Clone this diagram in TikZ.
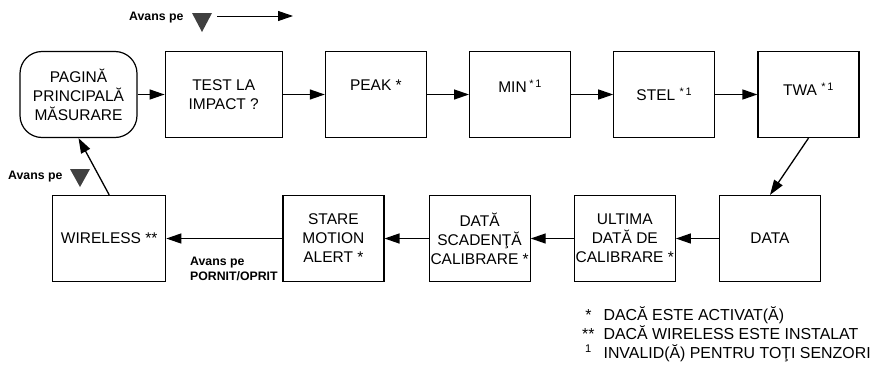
\documentclass[tikz,border=0pt]{standalone}
\usepackage{fontspec}
\setmainfont{Liberation Sans}
\usetikzlibrary{arrows.meta,positioning}
\definecolor{tridark}{RGB}{64,64,64}

\begin{document}
\begin{tikzpicture}[x=1pt,y=-1pt,>={Triangle[length=15pt,width=10pt]},
    every node/.style={font=\fontsize{15.5}{19}\selectfont},
    stepbox/.style={draw,line width=1.2pt,minimum width=101pt,minimum height=86pt,
      align=center,inner sep=1pt},
    link/.style={->,line width=1.3pt},
    avans/.style={font=\fontsize{12.3}{15}\selectfont\bfseries,align=left,inner sep=0pt}]
    \useasboundingbox (0,0) rectangle (874,364);
    % top row
    \node[stepbox,rounded corners=22pt,minimum width=117pt] (pag) at (78.5,94.5)
      {PAGINĂ\\PRINCIPALĂ\\MĂSURARE};
    \node[stepbox,minimum width=117pt,right=27pt of pag] (impact) {TEST LA\\IMPACT ?};
    \node[stepbox,right=42pt of impact] (peak) {\raisebox{9pt}[\height][\depth]{PEAK *}};
    \node[stepbox,right=42pt of peak] (min) {\raisebox{8pt}[\height][\depth]{MIN\,\textsuperscript{*\,1}}};
    \node[stepbox,right=42pt of min] (stel) {STEL \textsuperscript{*\,1}};
    \node[stepbox,right=42pt of stel] (twa) {\raisebox{5pt}[\height][\depth]{TWA \textsuperscript{*\,1}}};
    % bottom row
    \node[stepbox] (data) at (770,238.5) {DATA};
    \node[stepbox,left=43pt of data] (ultima) {ULTIMA\\DATĂ DE\\CALIBRARE *};
    \node[stepbox,left=43pt of ultima] (scad) {DATĂ\\SCADENŢĂ\\CALIBRARE *};
    \node[stepbox,left=44pt of scad] (motion) {STARE\\MOTION\\ALERT *};
    \node[stepbox,minimum width=113pt,left=116pt of motion] (wifi) {WIRELESS **};
    % connectors
    \draw[link] (pag) -- (impact);
    \draw[link] (impact) -- (peak);
    \draw[link] (peak) -- (min);
    \draw[link] (min) -- (stel);
    \draw[link] (stel) -- (twa);
    \draw[link] (twa.south) -- (data.north);
    \draw[link] (data) -- (ultima);
    \draw[link] (ultima) -- (scad);
    \draw[link] (scad) -- (motion);
    \draw[link] (motion) -- (wifi);
    \draw[link] (wifi.north) -- (pag.south);
    % key hints
    \node[avans,anchor=west] (avtop) at (129,18) {Avans pe};
    \fill[tridark] (192,13) -- (212,13) -- (202,32) -- cycle;
    \coordinate (adv0) at (217,16);
    \coordinate (adv1) at (293,16);
    \draw[link,line width=1pt] (adv0) -- (adv1);
    \node[avans,anchor=west] (avleft) at (8,177) {Avans pe};
    \fill[tridark] (70,169) -- (90,169) -- (80,187) -- cycle;
    \node[avans,anchor=north west] (avonoff) at (190,257) {Avans pe\\PORNIT/OPRIT};
    % legend
    \node[anchor=north west,inner sep=0pt,font=\fontsize{15.9}{18}\selectfont] (note) at (582,306)
      {\begin{tabular}{@{}c@{\hspace{9pt}}l@{}}
        * & DACĂ ESTE ACTIVAT(Ă)\\
        {**} & DACĂ WIRELESS ESTE INSTALAT\\
        \textsuperscript{1} & INVALID(Ă) PENTRU TOŢI SENZORI
      \end{tabular}};
\end{tikzpicture}
\end{document}
